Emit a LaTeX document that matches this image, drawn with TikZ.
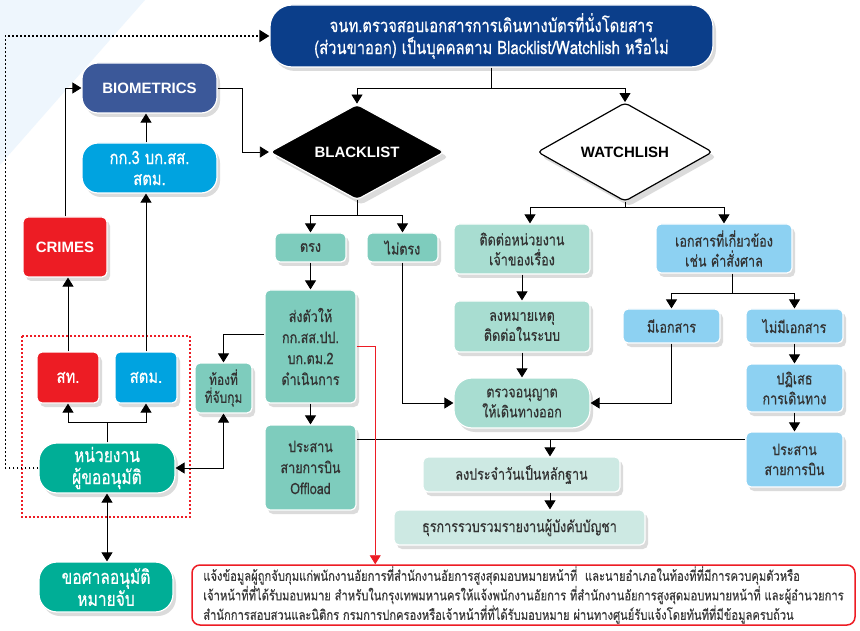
\documentclass[tikz,border=0pt]{standalone}
\usepackage{fontspec}
\setmainfont{Liberation Sans}
\newfontfamily\thai[Script=Thai, FakeStretch=0.8, FakeBold=0.5]{Loma}
\usetikzlibrary{arrows.meta,shapes.geometric,shadows,calc}
\definecolor{topblue}{HTML}{0B3E8A}
\definecolor{bioblue}{HTML}{3B5899}
\definecolor{cyanb}{HTML}{00A3E0}
\definecolor{crimered}{HTML}{ED1C24}
\definecolor{grn}{HTML}{00AE96}
\definecolor{teal}{HTML}{7ECCBD}
\definecolor{lteal}{HTML}{A8DDD1}
\definecolor{vlteal}{HTML}{CDE9E3}
\definecolor{lblue}{HTML}{8DD1F2}
\definecolor{bgblue}{HTML}{EEF6FD}
\definecolor{txt}{HTML}{333333}
\definecolor{notetxt}{HTML}{3A3A3A}
\begin{document}
\begin{tikzpicture}[x=1pt,y=-1pt,
  bx/.style={rectangle, rounded corners=5pt, draw=white, line width=1.2pt, align=center, inner sep=0pt, text=txt,
    font=\thai\fontsize{15.7}{20}\selectfont,
    drop shadow={shadow xshift=3pt, shadow yshift=-4pt, opacity=0.28}},
  eng/.style={font=\bfseries\fontsize{15}{18}\selectfont, text=white},
  arr/.style={draw=black, line width=0.8pt, -{Triangle[width=11pt,length=9pt]}},
  arrb/.style={draw=black, line width=0.8pt, {Triangle[width=11pt,length=9pt]}-{Triangle[width=11pt,length=9pt]}},
  ln/.style={draw=black, line width=0.8pt}]
\fill[white] (0,0) rectangle (860,631);
\useasboundingbox (0,0) rectangle (860,631);
\fill[bgblue] (0,0) -- (145,0) -- (0,165) -- cycle;

% top
\node[bx, fill=topblue, text=white, rounded corners=22pt, minimum width=443, minimum height=62,
  font=\thai\fontsize{18.5}{22}\selectfont] (top) at (491.5,36)
  {จนท.ตรวจสอบเอกสารการเดินทางบัตรที่นั่งโดยสาร\\(ส่วนขาออก) เป็นบุคคลตาม Blacklist/Watchlish หรือไม่};

% left column
\node[bx, eng, fill=bioblue, rounded corners=16pt, minimum width=135, minimum height=50] (bio) at (149.5,88) {BIOMETRICS};
\node[bx, fill=cyanb, text=white, rounded corners=16pt, minimum width=135, minimum height=50,
  font=\thai\fontsize{18.5}{21}\selectfont] (kk3) at (149.5,168) {กก.3 บก.สส.\\สตม.};
\node[bx, eng, fill=crimered, minimum width=84, minimum height=60] (crimes) at (65,247) {CRIMES};
\node[bx, fill=crimered, text=white, minimum width=62, minimum height=51, font=\thai\fontsize{18.5}{20}\selectfont] (sot) at (68,377.5) {สท.};
\node[bx, fill=cyanb, text=white, minimum width=62, minimum height=51, font=\thai\fontsize{18.5}{20}\selectfont] (stm) at (146,377.5) {สตม.};
\node[bx, fill=grn, text=white, rounded corners=18pt, minimum width=136, minimum height=50,
  font=\thai\fontsize{19.5}{22}\selectfont] (nuay) at (107,468) {หน่วยงาน\\ผู้ขออนุมัติ};
\node[bx, fill=grn, text=white, rounded corners=18pt, minimum width=134, minimum height=50,
  font=\thai\fontsize{19.5}{22}\selectfont] (sarn) at (106,587) {ขอศาลอนุมัติ\\หมายจับ};
\node[bx, fill=teal, minimum width=57, minimum height=50, font=\thai\fontsize{15}{18}\selectfont] (tongti) at (223.5,388) {ท้องที่\\ที่จับกุม};

% diamonds
\node[diamond, fill=black, draw=white, line width=1.2pt, rounded corners=4pt, minimum width=175, minimum height=85,
  inner sep=0pt, eng, drop shadow={shadow xshift=4pt, shadow yshift=-5pt, opacity=0.28}] (bl) at (357,152) {BLACKLIST};
\node[diamond, fill=white, draw=black, line width=1.2pt, rounded corners=4pt, minimum width=175, minimum height=85,
  inner sep=0pt, eng, text=black, drop shadow={shadow xshift=4pt, shadow yshift=-5pt, opacity=0.28}] (wl) at (625,152) {WATCHLISH};

% blacklist branch
\node[bx, fill=teal, minimum width=71, minimum height=29] (trong) at (310.5,247.5) {ตรง};
\node[bx, fill=teal, minimum width=71, minimum height=29] (maitrong) at (402.5,247.5) {ไม่ตรง};
\node[bx, fill=teal, minimum width=91, minimum height=113, font=\thai\fontsize{15.7}{21}\selectfont] (songtua) at (310.5,346.5)
  {ส่งตัวให้\\กก.สส.ปป.\\บก.ตม.2\\ดำเนินการ};
\node[bx, fill=teal, minimum width=91, minimum height=85, font=\thai\fontsize{15.7}{21}\selectfont] (offload) at (310.5,467.5)
  {ประสาน\\สายการบิน\\Offload};

% middle
\node[bx, fill=lteal, minimum width=136, minimum height=50] (tidtor) at (522,249) {ติดต่อหน่วยงาน\\เจ้าของเรื่อง};
\node[bx, fill=lteal, minimum width=136, minimum height=51] (longmai) at (522,326.5) {ลงหมายเหตุ\\ติดต่อในระบบ};
\node[bx, fill=lteal, rounded corners=18pt, minimum width=136, minimum height=50] (truat) at (522,403) {ตรวจอนุญาต\\ให้เดินทางออก};
\node[bx, fill=vlteal, minimum width=197, minimum height=35] (longpra) at (521.5,474.5) {ลงประจำวันเป็นหลักฐาน};
\node[bx, fill=vlteal, minimum width=251, minimum height=35] (thura) at (519.5,527.5) {ธุรการรวบรวมรายงานผู้บังคับบัญชา};

% right
\node[bx, fill=lblue, minimum width=136, minimum height=49] (ekasarn) at (724,248.5) {เอกสารที่เกี่ยวข้อง\\เช่น คำสั่งศาล};
\node[bx, fill=lblue, minimum width=97, minimum height=34] (mi) at (671.5,326) {มีเอกสาร};
\node[bx, fill=lblue, minimum width=97, minimum height=34] (maimi) at (794.5,326) {ไม่มีเอกสาร};
\node[bx, fill=lblue, minimum width=97, minimum height=48] (patised) at (794.5,388) {ปฏิเสธ\\การเดินทาง};
\node[bx, fill=lblue, minimum width=97, minimum height=55] (prasan) at (794.5,459.5) {ประสาน\\สายการบิน};

% note
\node[draw=crimered, line width=1.5pt, rounded corners=8pt, fill=white, minimum width=663, minimum height=60,
  align=left, inner sep=0pt, text=notetxt, font=\thai\fontsize{14}{19.5}\selectfont] (note) at (523.5,595)
  {แจ้งข้อมูลผู้ถูกจับกุมแก่พนักงานอัยการที่สำนักงานอัยการสูงสุดมอบหมายหน้าที่\ \ และนายอำเภอในท้องที่ที่มีการควบคุมตัวหรือ\\
   เจ้าหน้าที่ที่ได้รับมอบหมาย สำหรับในกรุงเทพมหานครให้แจ้งพนักงานอัยการ ที่สำนักงานอัยการสูงสุดมอบหมายหน้าที่ และผู้อำนวยการ\\
   สำนักการสอบสวนและนิติกร กรมการปกครองหรือเจ้าหน้าที่ที่ได้รับมอบหมาย ผ่านทางศูนย์รับแจ้งโดยทันทีที่มีข้อมูลครบถ้วน};

% red dotted group
\draw[crimered, line width=1.6pt, dash pattern=on 1.6pt off 2.4pt] (22,336) rectangle (190,517);

% connectors
\coordinate (j1) at (491.5,88);
\draw[ln] (top.south) -- (j1);
\draw[arr] (j1) -| (bl.north);
\draw[arr] (j1) -| (wl.north);

\draw[arr] (bio.east) -- ++(25,0) |- (bl.west);
\draw[arr] (crimes.north) |- (bio.west);
\draw[arr] (stm.north |- kk3.north) -- (stm.north |- bio.south);
\draw[arr] (stm.north) -- (stm.north |- kk3.south);
\draw[arr] (sot.north) -- (sot.north |- crimes.south);

\coordinate (j2) at (107,422);
\draw[ln] (nuay.north) -- (j2);
\draw[arr] (j2) -| (sot.south);
\draw[arr] (j2) -| (stm.south);
\draw[arrb] (nuay.south) -- (nuay.south |- sarn.north);
\draw[arrb] (tongti.south) |- (nuay.east);
\draw[arr] ($(songtua.north west)+(0,45)$) -| (tongti.north);

\draw[line width=1.8pt, dash pattern=on 1.8pt off 2.2pt, -{Triangle[width=12pt,length=10pt]}] (nuay.west) -- ++(-33,0) |- (top.west);

\coordinate (j3) at (357,215);
\draw[ln] (bl.south) -- (j3);
\draw[arr] (j3) -| (trong.north);
\draw[arr] (j3) -| (maitrong.north);
\draw[arr] (trong.south) -- (songtua.north);
\draw[arr] (songtua.south) -- (offload.north);
\draw[arr] (maitrong.south) |- (truat.west);

\coordinate (j4) at (625,207);
\draw[ln] (wl.south) -- (j4);
\draw[arr] (j4) -| ($(tidtor.north)+(8,0)$);
\draw[arr] (j4) -| (ekasarn.north);
\draw[arr] (tidtor.south) -- (longmai.north);
\draw[arr] (longmai.south) -- (truat.north);

\coordinate (j5) at (732,293);
\draw[ln] (j5 |- ekasarn.south) -- (j5);
\draw[arr] (j5) -| (mi.north);
\draw[arr] (j5) -| (maimi.north);
\draw[arr] (mi.south) |- (truat.east);
\draw[arr] (maimi.south) -- (patised.north);
\draw[arr] (patised.south) -- (prasan.north);

\coordinate (j6) at (550,439);
\draw[ln] (offload.east |- j6) -- (prasan.west |- j6);
\draw[arr] (j6) -- (j6 |- longpra.north);
\draw[arr] (j6 |- longpra.south) -- (j6 |- thura.north);

\draw[crimered, line width=0.8pt, -{Triangle[width=11pt,length=9pt]}] (songtua.east) -| ($(note.north west)+(184,0)$);
\end{tikzpicture}
\end{document}
